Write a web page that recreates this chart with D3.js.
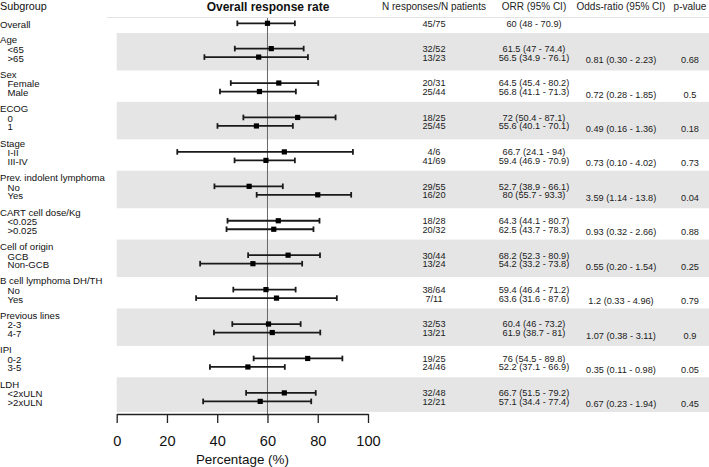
<!DOCTYPE html>
<html><head><meta charset="utf-8">
<script src="https://cdn.jsdelivr.net/npm/d3@7"></script>
<style>
html,body{margin:0;padding:0;background:#fff;}
svg{display:block;font-family:"Liberation Sans",Arial,sans-serif;}
</style></head>
<body>
<svg id="chart" width="709" height="467"></svg>
<script>
// ---------- data ----------
const groupNames = ["Age","Sex","ECOG","Stage","Prev. indolent lymphoma","CART cell dose/Kg","Cell of origin","B cell lymphoma DH/TH","Previous lines","IPI","LDH"];
const subNames = [["<65",">65"],["Female","Male"],["0","1"],["I-II","III-IV"],["No","Yes"],["<0.025",">0.025"],["GCB","Non-GCB"],["No","Yes"],["2-3","4-7"],["0-2","3-5"],["<2xULN",">2xULN"]];
const orr = [[61.5,56.5],[64.5,56.8],[72,55.6],[66.7,59.4],[52.7,80],[64.3,62.5],[68.2,54.2],[59.4,63.6],[60.4,61.9],[76,52.2],[66.7,57.1]];
const orrLow = [[47,34.9],[45.4,41.1],[50.4,40.1],[24.1,46.9],[38.9,55.7],[44.1,43.7],[52.3,33.2],[46.4,31.6],[46,38.7],[54.5,37.1],[51.5,34.4]];
const orrHigh = [[74.4,76.1],[80.2,71.3],[87.1,70.1],[94,70.9],[66.1,93.3],[80.7,78.3],[80.9,73.8],[71.2,87.6],[73.2,81],[89.8,66.9],[79.2,77.4]];
const nResp = [["32/52","13/23"],["20/31","25/44"],["18/25","25/45"],["4/6","41/69"],["29/55","16/20"],["18/28","20/32"],["30/44","13/24"],["38/64","7/11"],["32/53","13/21"],["19/25","24/46"],["32/48","12/21"]];
const oddsRatio = ["0.81 (0.30 - 2.23)","0.72 (0.28 - 1.85)","0.49 (0.16 - 1.36)","0.73 (0.10 - 4.02)","3.59 (1.14 - 13.8)","0.93 (0.32 - 2.66)","0.55 (0.20 - 1.54)","1.2 (0.33 - 4.96)","1.07 (0.38 - 3.11)","0.35 (0.11 - 0.98)","0.67 (0.23 - 1.94)"];
const pValues = ["0.68","0.5","0.18","0.73","0.04","0.88","0.25","0.79","0.9","0.05","0.45"];
const overall = {label:"Overall", orr:60, lo:48, hi:70.9, n:"45/75"};
const refValue = 60;
const xTicks = [0,20,40,60,80,100];
const headers = {sub:"Subgroup", plot:"Overall response rate", n:"N responses/N patients", orr:"ORR (95% CI)", odds:"Odds-ratio (95% CI)", p:"p-value"};
const xLabel = "Percentage (%)";

// ---------- layout ----------
const svg = d3.select("#chart");
const W = 709;
const x = d3.scaleLinear().domain([0,100]).range([116.7,368]);
const gy = d3.scaleLinear().domain([0,10]).range([40,384.3]);
const subOff = [9.3,17.8];
const overallY = 24;
const axisY = 414;
const plotTop = 18;
const colN = 434, colOrr = 534, colOdds = 621, colP = 690;
const txt = "#111";

function base(c, fs){ return c + 0.36*fs; }

// rows
const rows = [];
groupNames.forEach((g,i)=>{
  subNames[i].forEach((s,j)=>{
    rows.push({g:i, j, label:s, y:gy(i)+subOff[j], orr:orr[i][j], lo:orrLow[i][j], hi:orrHigh[i][j], n:nResp[i][j]});
  });
});
const allRows = [{label:overall.label, y:overallY, orr:overall.orr, lo:overall.lo, hi:overall.hi, n:overall.n}].concat(rows);

// bands
svg.append("g").selectAll("rect").data(groupNames.map((g,i)=>i).filter(i=>i%2===0)).join("rect")
  .attr("x", x(0)).attr("width", W - x(0))
  .attr("y", i=>gy(i)-7)
  .attr("height", i=>Math.min(gy(i)+30.5, axisY-2) - (gy(i)-7))
  .attr("fill","#e5e5e5");

// header separator
svg.append("line").attr("x1",107).attr("x2",W).attr("y1",17.5).attr("y2",17.5)
  .attr("stroke","#e2e2e2").attr("stroke-width",1);

// reference line
svg.append("line").attr("x1",x(refValue)).attr("x2",x(refValue)).attr("y1",plotTop).attr("y2",axisY)
  .attr("stroke","#666").attr("stroke-width",1);

// headers
const hfs = 10;
svg.append("text").attr("x",0).attr("y",base(6.5,10.8)).attr("font-size",10.8).attr("fill",txt).text(headers.sub);
svg.append("text").attr("x",268).attr("y",base(6.5,12)).attr("font-size",12).attr("font-weight","bold").attr("text-anchor","middle").attr("fill",txt).text(headers.plot);
[[colN,headers.n],[colOrr,headers.orr],[colOdds,headers.odds],[colP,headers.p]].forEach(([cx,t])=>{
  svg.append("text").attr("x",cx).attr("y",base(6.5,hfs)).attr("font-size",hfs).attr("text-anchor","middle").attr("fill","#222").text(t);
});

// subgroup labels
const lfs = 9.6;
svg.append("text").attr("x",0).attr("y",base(overallY+0.3,lfs)).attr("font-size",lfs).attr("fill",txt).text(overall.label);
groupNames.forEach((g,i)=>{
  svg.append("text").attr("x",0).attr("y",base(gy(i),lfs)).attr("font-size",lfs).attr("fill",txt).text(g);
});
svg.append("g").selectAll("text").data(rows).join("text")
  .attr("x",7.5).attr("y",d=>base(d.y+0.3,lfs)).attr("font-size",lfs).attr("fill",txt).text(d=>d.label);

// error bars
const bars = svg.append("g").selectAll("g").data(allRows).join("g");
bars.append("line").attr("x1",d=>x(d.lo)).attr("x2",d=>x(d.hi)).attr("y1",d=>d.y-0.7).attr("y2",d=>d.y-0.7)
  .attr("stroke","#1a1a1a").attr("stroke-width",1.8);
bars.each(function(d){
  const g = d3.select(this);
  [d.lo,d.hi].forEach(v=>{
    g.append("line").attr("x1",x(v)).attr("x2",x(v)).attr("y1",d.y-0.7-2.8).attr("y2",d.y-0.7+2.8)
      .attr("stroke","#1a1a1a").attr("stroke-width",1.8);
  });
});
bars.append("rect").attr("x",d=>x(d.orr)-2.6).attr("y",d=>d.y-0.7-2.6).attr("width",5.2).attr("height",5.2).attr("fill","#000");

// value columns
const vfs = 9.2;
const vals = svg.append("g").attr("font-size",vfs).attr("fill","#1a1a1a").attr("text-anchor","middle");
vals.selectAll("text.n").data(allRows).join("text").attr("class","n")
  .attr("x",colN).attr("y",d=>base(d.y-0.6,vfs)).text(d=>d.n);
vals.selectAll("text.o").data(allRows).join("text").attr("class","o")
  .attr("x",colOrr).attr("y",d=>base(d.y-0.6,vfs)).text(d=>`${d.orr} (${d.lo} - ${d.hi})`);
vals.selectAll("text.od").data(oddsRatio).join("text").attr("class","od")
  .attr("x",colOdds).attr("y",(d,i)=>base(gy(i)+subOff[1]+2,vfs)).text(d=>d);
vals.selectAll("text.p").data(pValues).join("text").attr("class","p")
  .attr("x",colP).attr("y",(d,i)=>base(gy(i)+subOff[1]+2,vfs)).text(d=>d);

// axis
const axis = svg.append("g").attr("transform",`translate(0,${axisY})`)
  .call(d3.axisBottom(x).tickValues(xTicks).tickSize(9).tickSizeOuter(0).tickPadding(12.2).tickFormat(d3.format("d")));
axis.select(".domain").attr("stroke","#222").attr("stroke-width",1.3);
axis.selectAll(".tick line").attr("stroke","#222").attr("stroke-width",1.3);
axis.selectAll(".tick text").attr("font-size",14.6).attr("fill",txt).attr("font-family","Liberation Sans, Arial, sans-serif");
svg.append("text").attr("x",242.4).attr("y",464).attr("font-size",13.4).attr("text-anchor","middle").attr("fill",txt).text(xLabel);
</script>
</body></html>
